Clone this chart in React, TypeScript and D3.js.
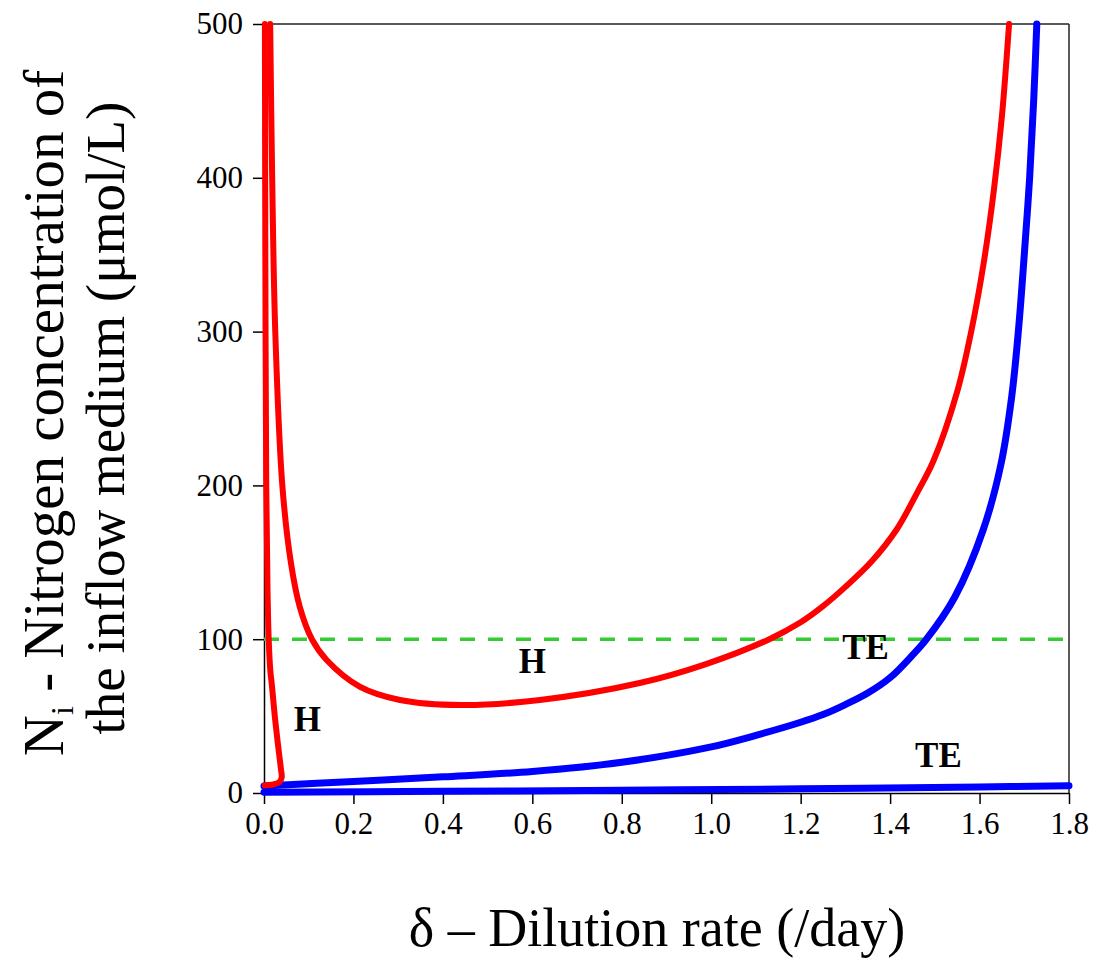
import React, { useRef, useEffect } from "react";
import * as d3 from "d3";

// dilution rate (/day), inflow nitrogen (umol/L)
const redLeft: [number, number][] = [
  [0.002, 5], [0.02, 5.5], [0.034, 7], [0.0395, 10], [0.038, 15.2], [0.0335, 26],
  [0.025, 47.6], [0.018, 69], [0.014, 80], [0.0105, 100], [0.008, 130], [0.005, 200],
  [0.003, 350], [0.002, 500],
];
const redU: [number, number][] = [
  [0.0138, 500], [0.0183, 400], [0.0252, 300], [0.041, 200], [0.06, 150], [0.08, 121],
  [0.107, 100], [0.14, 86.5], [0.215, 69], [0.304, 60.5], [0.44, 57.2], [0.617, 60.5],
  [0.84, 71.5], [0.99, 84], [1.13, 100], [1.2, 111], [1.25, 121.5], [1.3, 134],
  [1.36, 151], [1.415, 171.5], [1.46, 195], [1.497, 216], [1.55, 261], [1.582, 301],
  [1.61, 346], [1.632, 392], [1.65, 440], [1.666, 500],
];
const blueUpper: [number, number][] = [
  [0, 4.5], [0.2, 7.5], [0.4, 10.5], [0.6, 14], [0.8, 20], [1.0, 30], [1.1, 37.5],
  [1.2, 46], [1.25, 51], [1.3, 57.5], [1.35, 65], [1.4, 75], [1.448, 89], [1.48, 99.5],
  [1.545, 127.6], [1.608, 171], [1.648, 214], [1.672, 258], [1.687, 301], [1.7, 350],
  [1.712, 400], [1.721, 450], [1.728, 500],
];
const blueLower: [number, number][] = [
  [0, 0.5], [0.4, 1.1], [0.8, 1.8], [1.2, 2.7], [1.6, 3.9], [1.8, 4.7],
];
const threshold = 100;
const regionLabels: { text: string; d: number; n: number }[] = [
  { text: "H", d: 0.097, n: 47.5 },
  { text: "H", d: 0.6, n: 85.5 },
  { text: "TE", d: 1.345, n: 94.7 },
  { text: "TE", d: 1.508, n: 24.7 },
];
const xTicks = [0, 0.2, 0.4, 0.6, 0.8, 1.0, 1.2, 1.4, 1.6, 1.8];
const yTicks = [0, 100, 200, 300, 400, 500];

const App = () => {
  const svgRef = useRef<SVGSVGElement>(null);

  useEffect(() => {
    const svg = d3.select(svgRef.current);
    svg.selectAll("*").remove();
    const width = 1093,
      height = 961,
      margin = { top: 24, right: 24, bottom: 168, left: 264 };
    const serif = "'Liberation Serif', 'Times New Roman', serif";

    const x = d3.scaleLinear().domain([0, 1.8]).range([margin.left, width - margin.right]);
    const y = d3.scaleLinear().domain([0, 500]).range([height - margin.bottom, margin.top]);

    // frame top & right
    svg.append("line")
      .attr("x1", x(0)).attr("x2", x(1.8)).attr("y1", y(500)).attr("y2", y(500))
      .attr("stroke", "#222").attr("stroke-width", 1.5);
    svg.append("line")
      .attr("x1", x(1.8)).attr("x2", x(1.8)).attr("y1", y(500)).attr("y2", y(0))
      .attr("stroke", "#222").attr("stroke-width", 1.5);

    // Add the X Axis
    const gx = svg.append("g")
      .attr("transform", `translate(0,${y(0)})`)
      .call(d3.axisBottom(x).tickValues(xTicks).tickFormat(d3.format(".1f")).tickSize(11).tickSizeOuter(0).tickPadding(8));
    // Add the Y Axis
    const gy = svg.append("g")
      .attr("transform", `translate(${x(0)},0)`)
      .call(d3.axisLeft(y).tickValues(yTicks).tickFormat(d3.format("d")).tickSize(11).tickSizeOuter(0).tickPadding(10));
    [gx, gy].forEach((g) => {
      g.select(".domain").attr("stroke", "#000").attr("stroke-width", 1.5);
      g.selectAll(".tick line").attr("stroke", "#000").attr("stroke-width", 1.5);
      g.selectAll(".tick text").attr("fill", "#000").style("font-family", serif).style("font-size", "31px");
    });

    // threshold
    svg.append("line")
      .attr("x1", x(0)).attr("x2", x(1.8)).attr("y1", y(threshold)).attr("y2", y(threshold))
      .attr("stroke", "#33cc33").attr("stroke-width", 3.5).attr("stroke-dasharray", "15,13");

    const line = d3.line<[number, number]>()
      .x((d) => x(d[0]))
      .y((d) => y(d[1]))
      .curve(d3.curveCatmullRom.alpha(0.5));

    const series = [
      { data: blueLower, color: "#0000ff", w: 7 },
      { data: blueUpper, color: "#0000ff", w: 7 },
      { data: redLeft, color: "#ff0000", w: 6 },
      { data: redU, color: "#ff0000", w: 6 },
    ];
    series.forEach((s) => {
      svg.append("path")
        .datum(s.data)
        .attr("d", line)
        .attr("fill", "none")
        .attr("stroke", s.color)
        .attr("stroke-width", s.w)
        .attr("stroke-linecap", "round")
        .attr("stroke-linejoin", "round");
    });

    svg.selectAll(".region")
      .data(regionLabels)
      .enter()
      .append("text")
      .attr("x", (d) => x(d.d))
      .attr("y", (d) => y(d.n))
      .attr("text-anchor", "middle")
      .attr("dominant-baseline", "central")
      .style("font-family", serif)
      .style("font-size", "35px")
      .style("font-weight", "bold")
      .text((d) => d.text);

    // axis titles
    svg.append("text")
      .attr("x", 657)
      .attr("y", 946)
      .attr("text-anchor", "middle")
      .style("font-family", serif)
      .style("font-size", "54px")
      .text("δ – Dilution rate (/day)");

    const yt = svg.append("text")
      .attr("transform", "translate(63,413) rotate(-90)")
      .attr("text-anchor", "middle")
      .style("font-family", serif)
      .style("font-size", "57px");
    yt.append("tspan").text("N");
    yt.append("tspan").attr("font-size", "32px").attr("dy", 10).text("i");
    yt.append("tspan").attr("dy", -10).text(" - Nitrogen concentration of");
    svg.append("text")
      .attr("transform", "translate(124,418) rotate(-90)")
      .attr("text-anchor", "middle")
      .style("font-family", serif)
      .style("font-size", "55px")
      .text("the inflow medium (μmol/L)");
  }, []);

  return (
    <div style={{ position: "absolute", left: 0, top: 0 }}>
      <svg ref={svgRef} width={1093} height={961} style={{ display: "block", background: "#fff" }}></svg>
    </div>
  );
};

export default App;
